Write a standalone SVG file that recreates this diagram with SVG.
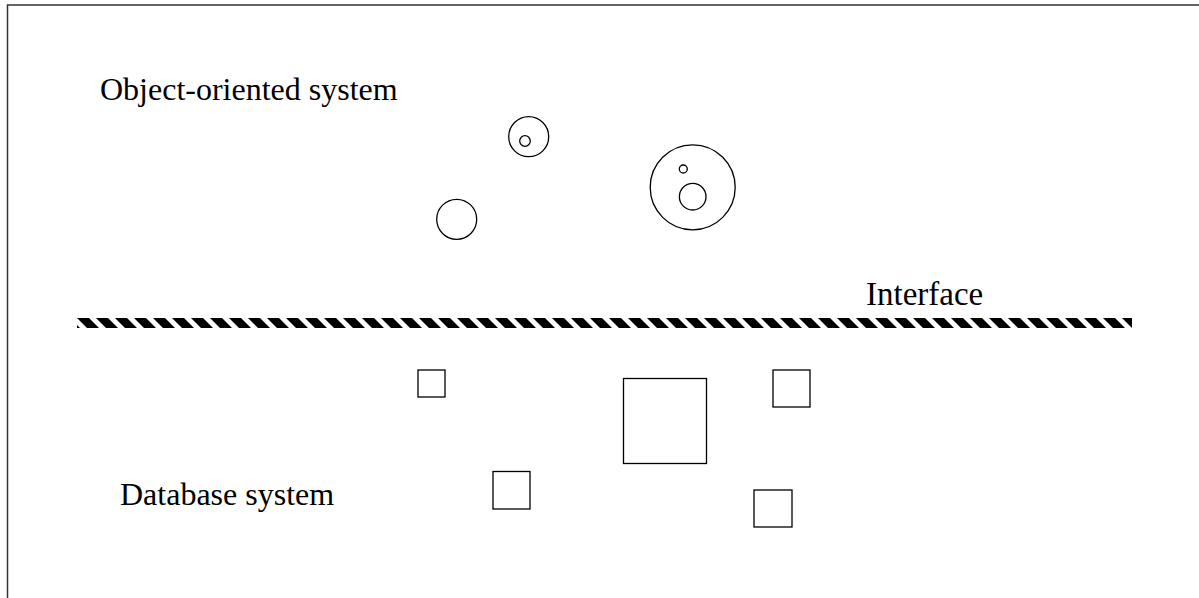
<svg xmlns="http://www.w3.org/2000/svg" width="1199" height="598" viewBox="0 0 1199 598">
<style>
.lbl{font-family:"Liberation Serif","Times New Roman",serif;font-size:32px;fill:#000}
.sh{fill:#fff;stroke:#000;stroke-width:1.3}
.frame{fill:none;stroke:#333;stroke-width:1.5}
</style>
<defs>
<pattern id="hatch" patternUnits="userSpaceOnUse" x="77" y="318" width="19" height="10">
<polygon points="0,0 12,0 22,10 10,10" fill="#000"/>
<polygon points="-19,0 -7,0 3,10 -9,10" fill="#000"/>
</pattern>
</defs>
<rect width="1199" height="598" fill="#fff"/>
<path class="frame" d="M7.5,598 V5 H1199"/>
<g id="label-oo"><text class="lbl" x="100" y="100">Object-oriented system</text></g>
<g id="obj1"><circle class="sh" cx="528.7" cy="136.7" r="20"/><circle class="sh" cx="525" cy="141" r="5.3"/></g>
<g id="obj2"><circle class="sh" cx="456.7" cy="219.3" r="20"/></g>
<g id="obj3"><circle class="sh" cx="692.7" cy="187.3" r="42.5"/><circle class="sh" cx="683.3" cy="169" r="4"/><circle class="sh" cx="692.7" cy="196.7" r="13.3"/></g>
<g id="interface"><text class="lbl" x="866" y="305" style="font-size:33px">Interface</text><rect x="77" y="318" width="1055" height="10" fill="url(#hatch)"/></g>
<g id="db1"><rect class="sh" x="418" y="370" width="27" height="27"/></g>
<g id="db2"><rect class="sh" x="623.5" y="378.5" width="83" height="85"/></g>
<g id="db3"><rect class="sh" x="773" y="370" width="37" height="37"/></g>
<g id="db4"><rect class="sh" x="493" y="471.5" width="37" height="37.5"/></g>
<g id="db5"><rect class="sh" x="754" y="490" width="38" height="37"/></g>
<g id="label-db"><text class="lbl" x="120" y="505">Database system</text></g>
<g id="connectors"/>
</svg>
